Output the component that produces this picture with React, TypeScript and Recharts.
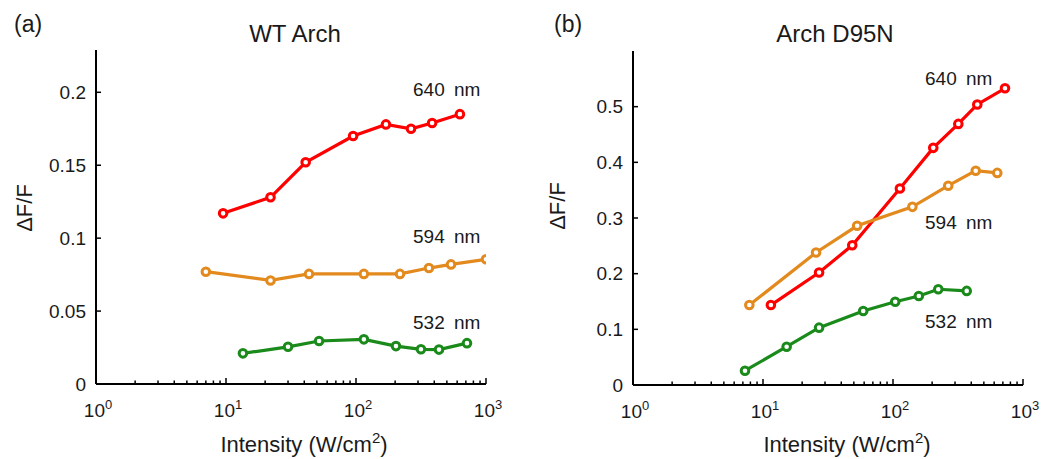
import { LineChart, Line, XAxis, YAxis } from 'recharts';

// intensity values (W/cm^2) and dF/F
const wtX640 = [9.5, 22, 41, 95, 170, 265, 385, 630];
const wtY640 = [0.117, 0.128, 0.152, 0.17, 0.178, 0.175, 0.179, 0.185];
const wtX594 = [7.0, 22, 43.5, 115, 218, 364, 538, 1000];
const wtY594 = [0.077, 0.071, 0.0755, 0.0755, 0.0755, 0.0795, 0.082, 0.0855];
const wtX532 = [13.5, 30, 52, 115, 203, 316, 435, 714];
const wtY532 = [0.021, 0.0255, 0.0295, 0.0306, 0.026, 0.0238, 0.0236, 0.028];

const dnX640 = [11.5, 27, 48.6, 113, 204, 318, 445, 727];
const dnY640 = [0.1436, 0.202, 0.251, 0.353, 0.426, 0.469, 0.504, 0.533];
const dnX594 = [7.85, 25.6, 53, 141, 266, 433, 634];
const dnY594 = [0.1436, 0.238, 0.286, 0.32, 0.358, 0.385, 0.381];
const dnX532 = [7.27, 15.2, 27, 59, 104, 158, 223, 369];
const dnY532 = [0.0257, 0.0688, 0.103, 0.133, 0.1496, 0.16, 0.172, 0.169];

const majorTicks = [1, 10, 100, 1000];
const minorSteps = [2, 3, 4, 5, 6, 7, 8, 9];
const xTicks = [
  ...majorTicks,
  ...[1, 10, 100].flatMap((d) => minorSteps.map((m) => m * d)),
].sort((a, b) => a - b);
const wtYTicks = [0, 0.05, 0.1, 0.15, 0.2];
const dnYTicks = [0, 0.1, 0.2, 0.3, 0.4, 0.5];

const RED = '#ff0000';
const ORANGE = '#e38a1f';
const GREEN = '#1a8a1a';
const FONT = '"Liberation Sans", Arial, sans-serif';
const INK = '#1a1a1a';

const toPts = (xs: number[], ys: number[]) => xs.map((x, i) => ({ x, y: ys[i] }));

function XTick(props: any) {
  const { x, y, payload } = props;
  const v = payload.value;
  const major = majorTicks.includes(v);
  const exp = Math.round(Math.log10(v));
  return (
    <g>
      <line x1={x} y1={y} x2={x} y2={y - (major ? 6 : 3.5)} stroke="#000" strokeWidth={1.5} />
      {major && (
        <text x={x + 2} y={y + 33} textAnchor="middle" fontSize={19} fontFamily={FONT} fill={INK}>
          10<tspan dy={-8} fontSize={13}>{exp}</tspan>
        </text>
      )}
    </g>
  );
}

function YTick(props: any) {
  const { x, y, payload } = props;
  return (
    <g>
      <line x1={x} y1={y} x2={x + 5} y2={y} stroke="#000" strokeWidth={1.5} />
      <text x={x - 10} y={y} dy="0.35em" textAnchor="end" fontSize={19} fontFamily={FONT} fill={INK}>
        {String(payload.value)}
      </text>
    </g>
  );
}

const dotStyle = (c: string) => ({ r: 3.8, fill: '#fff', stroke: c, strokeWidth: 3 });

interface PanelProps {
  letter: string;
  title: string;
  titleX: number;
  letterX: number;
  yDomain: [number, number];
  yTicks: number[];
  margin: { top: number; right: number; bottom: number; left: number };
  series: { name: string; color: string; data: { x: number; y: number }[]; lx: number; ly: number }[];
  yLabelX: number;
  yLabelY: number;
  xLabelX: number;
}

function Panel(p: PanelProps) {
  const txt = { fontFamily: FONT, fill: INK };
  return (
    <LineChart width={521} height={459} margin={p.margin}>
      <XAxis
        dataKey="x"
        type="number"
        scale="log"
        domain={[1, 1000]}
        allowDataOverflow
        ticks={xTicks}
        interval={0}
        tick={<XTick />}
        tickLine={false}
        tickSize={0}
        tickMargin={0}
        axisLine={{ stroke: '#000', strokeWidth: 2 }}
      />
      <YAxis
        type="number"
        domain={p.yDomain}
        allowDataOverflow
        ticks={p.yTicks}
        interval={0}
        tick={<YTick />}
        tickLine={false}
        tickSize={0}
        tickMargin={0}
        axisLine={{ stroke: '#000', strokeWidth: 2 }}
      />
      {p.series.map((s) => (
        <Line
          key={s.name}
          data={s.data}
          dataKey="y"
          type="linear"
          stroke={s.color}
          strokeWidth={3.2}
          dot={dotStyle(s.color)}
          activeDot={false}
          isAnimationActive={false}
        />
      ))}
      {p.series.map((s) => (
        <text key={'l' + s.name} x={s.lx} y={s.ly} fontSize={19} wordSpacing={4} {...txt}>
          {s.name}
        </text>
      ))}
      <text x={p.letterX} y={32} fontSize={23} {...txt}>{p.letter}</text>
      <text x={p.titleX} y={42} fontSize={24} textAnchor="middle" {...txt}>{p.title}</text>
      <text
        x={p.yLabelX}
        y={p.yLabelY}
        fontSize={22}
        textAnchor="middle"
        dy="0.35em"
        transform={`rotate(-90 ${p.yLabelX} ${p.yLabelY})`}
        {...txt}
      >
        ΔF/F
      </text>
      <text x={p.xLabelX} y={452} fontSize={22} textAnchor="middle" {...txt}>
        Intensity (W/cm<tspan dy={-9} fontSize={15}>2</tspan>
        <tspan dy={9}>)</tspan>
      </text>
    </LineChart>
  );
}

export default function App() {
  return (
    <div style={{ position: 'absolute', left: 0, top: 0, width: 1042, height: 459, background: '#fff' }}>
      <div style={{ position: 'absolute', left: 0, top: 0 }}>
        <Panel
          letter="(a)"
          title="WT Arch"
          titleX={295}
          letterX={14}
          yDomain={[0, 0.229]}
          yTicks={wtYTicks}
          margin={{ top: 50, right: 35, bottom: 45, left: 36 }}
          yLabelX={24}
          yLabelY={208}
          xLabelX={304}
          series={[
            { name: '640 nm', color: RED, data: toPts(wtX640, wtY640), lx: 413, ly: 96 },
            { name: '594 nm', color: ORANGE, data: toPts(wtX594, wtY594), lx: 413, ly: 243 },
            { name: '532 nm', color: GREEN, data: toPts(wtX532, wtY532), lx: 413, ly: 329 },
          ]}
        />
      </div>
      <div style={{ position: 'absolute', left: 521, top: 0 }}>
        <Panel
          letter="(b)"
          title="Arch D95N"
          titleX={314}
          letterX={33}
          yDomain={[0, 0.6]}
          yTicks={dnYTicks}
          margin={{ top: 51, right: 19, bottom: 44, left: 52 }}
          yLabelX={36}
          yLabelY={206}
          xLabelX={326}
          series={[
            { name: '640 nm', color: RED, data: toPts(dnX640, dnY640), lx: 404, ly: 85 },
            { name: '594 nm', color: ORANGE, data: toPts(dnX594, dnY594), lx: 404, ly: 229 },
            { name: '532 nm', color: GREEN, data: toPts(dnX532, dnY532), lx: 404, ly: 328 },
          ]}
        />
      </div>
    </div>
  );
}
